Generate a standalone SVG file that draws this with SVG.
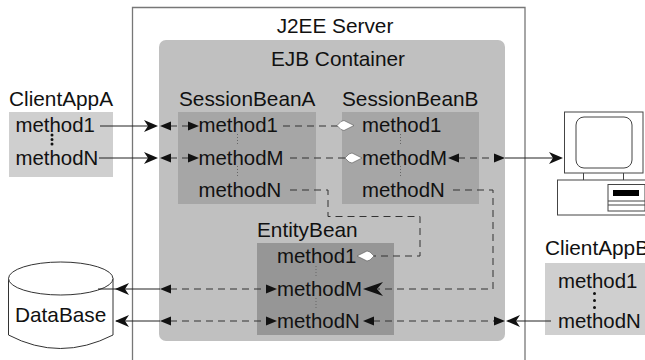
<svg xmlns="http://www.w3.org/2000/svg" width="645" height="360" viewBox="0 0 645 360">
<style>
text{font-family:"Liberation Sans",Arial,sans-serif;font-size:20.8px;fill:#111}
.m{font-size:20.4px}
.s{fill:none;stroke:#222;stroke-width:1}
.d{fill:none;stroke:#333;stroke-width:1;stroke-dasharray:7 5}
.v{fill:none;stroke:#666;stroke-width:1;stroke-dasharray:1 2}
.b{fill:none;stroke:#111;stroke-width:3;stroke-linecap:round;stroke-dasharray:0 4.500}
</style>
<defs>
<path id="a" d="M0 0L-14-6L-10 0L-14 6Z" fill="#111"/>
<path id="A" d="M0 0L-20-7L-14 0L-20 7Z" fill="#111"/>
<path id="t" d="M0 0L-11-4.500V4.500Z" fill="#111"/>
<path id="w" d="M0 0L-10-5L-13-4L-17 0L-13 4L-10 5Z" fill="#fff" stroke="#555" stroke-width="0.600"/>
</defs>
<rect width="645" height="360" fill="#fff"/>
<g id="server"><path d="M132.500 360V7.500H525V360" fill="#fff" stroke="#777" stroke-width="1.300"/><text x="335" y="33" text-anchor="middle">J2EE Server</text></g>
<g id="container"><rect x="159" y="40" width="346" height="301" rx="7" fill="#c0c0c0"/><text x="338" y="66" text-anchor="middle">EJB Container</text></g>
<g id="clientA"><rect x="9" y="112" width="104" height="65" fill="#cfcfcf"/><text x="9" y="106">ClientAppA</text><text class="m" x="15.500" y="132">method1</text><text class="m" x="15.500" y="164.500">methodN</text><path class="b" d="M52 135V145"/></g>
<g id="sessionA"><rect x="178" y="112" width="138" height="92" fill="#a6a6a6"/><text x="179" y="106">SessionBeanA</text><text class="m" x="198.500" y="132">method1</text><text class="m" x="198.500" y="164.500">methodM</text><text class="m" x="198.500" y="197">methodN</text><path class="v" d="M237.500 134V146M237.500 166V178"/></g>
<g id="sessionB"><rect x="342" y="112" width="137" height="92" fill="#a6a6a6"/><text x="342" y="106">SessionBeanB</text><text class="m" x="362" y="132">method1</text><text class="m" x="362" y="164.500">methodM</text><text class="m" x="362" y="197">methodN</text><path class="v" d="M400.500 134V146M400.500 166V178"/></g>
<g id="entity"><rect x="257" y="243" width="137" height="92" fill="#969696"/><text x="257" y="237">EntityBean</text><text class="m" x="277" y="263">method1</text><text class="m" x="277" y="296">methodM</text><text class="m" x="277" y="328">methodN</text><path class="v" d="M316 266V277M316 298V309"/></g>
<g id="clientB"><rect x="545" y="263" width="100" height="72" fill="#cfcfcf"/><text x="545" y="255">ClientAppB</text><text class="m" x="558" y="288">method1</text><text class="m" x="558" y="328">methodN</text><path class="b" d="M594.500 293.500V308" style="stroke-dasharray:0 7"/></g>
<g id="database"><path d="M8.500 278.500V335Q60 362 113 335V278.500" fill="#fff" stroke="#333"/><ellipse cx="60.750" cy="278.500" rx="52.250" ry="16.500" fill="#fff" stroke="#333"/><text x="15" y="322">DataBase</text></g>
<g id="computer" fill="#fff" stroke="#444"><rect x="564.500" y="112" width="78.500" height="61"/><rect x="576" y="117" width="56" height="51" rx="8"/><path d="M583.500 173V180M623.500 173V180"/><rect x="557.500" y="180" width="95" height="35"/><rect x="608" y="184.500" width="37" height="26.500"/><path d="M608 201H645M608 205H645"/><rect x="613" y="190" width="26" height="6" fill="#000" stroke="none"/></g>
<g id="connectors">
<path class="s" d="M100 126H150M99 158H150M505 158H553M98 289H160M116 321H160M510 321H551"/>
<path class="d" d="M170 126H190M170 158H190M170 289H267M170 321H267M283 126H338M290 158H346M290 190H328V216.500H420V256H368M458 158H494M453 190H493V289H378M373 321H495"/>
<use href="#a" x="158" y="126"/><use href="#t" transform="translate(160 126) rotate(180)"/><use href="#t" x="199" y="126"/>
<use href="#a" x="158" y="158"/><use href="#t" transform="translate(160 158) rotate(180)"/><use href="#t" x="199" y="158"/>
<use href="#w" x="354" y="125.500"/><use href="#w" x="362" y="158"/>
<use href="#t" transform="translate(448 158) rotate(180)"/><use href="#t" x="505" y="158"/><use href="#a" x="563" y="158"/>
<use href="#w" transform="translate(357 256) rotate(180)"/><use href="#A" transform="translate(363 289) rotate(180)"/>
<use href="#t" transform="translate(363 321) rotate(180)"/><use href="#t" x="505" y="321"/><use href="#a" transform="translate(506 321) rotate(180)"/>
<use href="#a" transform="translate(115 289) rotate(180)"/><use href="#t" transform="translate(160 289) rotate(180)"/><use href="#t" x="277" y="289"/>
<use href="#a" transform="translate(115 321) rotate(180)"/><use href="#t" transform="translate(160 321) rotate(180)"/><use href="#t" x="277" y="321"/>
</g>
</svg>
